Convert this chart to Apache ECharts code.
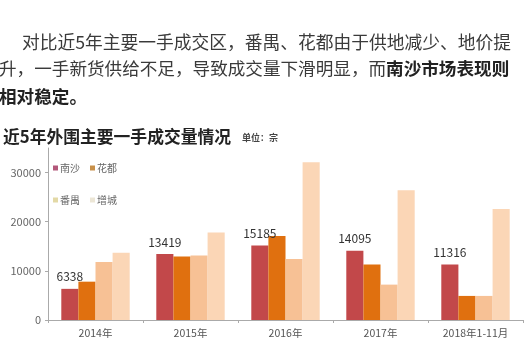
<!DOCTYPE html>
<html><head><meta charset="utf-8">
<script src="https://cdn.jsdelivr.net/npm/echarts@6/dist/echarts.min.js"></script>
<style>html,body{margin:0;padding:0;background:#fff}#c{width:531px;height:364px}</style>
</head><body><div id="c"></div>
<script>
const categories = ['2014年','2015年','2016年','2017年','2018年1-11月'];
const nansha = [6338, 13419, 15185, 14095, 11316];
const huadu = [7800, 12900, 17100, 11300, 4900];
const panyu = [11800, 13100, 12400, 7200, 4900];
const zengcheng = [13700, 17800, 32100, 26400, 22600];
const seriesNames = ['南沙','花都','番禺','增城'];
const yTicks = [0, 10000, 20000, 30000];

const chart = echarts.init(document.getElementById('c'));
const FONT = '"Noto Sans CJK SC", "Noto Sans", sans-serif';
const colors = ['#c2484a','#e0700f','#f7c195','#fbd6b6'];
const legendIcon = ['#b3587a','#c8904a','#e3d9a6','#ece6d6'];

function bar(name, data, i, label) {
  return {
    name, type: 'bar', data, barGap: 0, barCategoryGap: '28%',
    itemStyle: { color: colors[i] },
    label: label ? { show: true, position: 'top', distance: 6, color: '#333', fontSize: 12, fontFamily: FONT } : { show: false }
  };
}

chart.setOption({
  animation: false,
  textStyle: { fontFamily: FONT },
  grid: { left: 48, right: 8, top: 148, bottom: 44 },
  legend: [
    { data: [{name:'南沙', itemStyle:{color:legendIcon[0]}}, {name:'花都', itemStyle:{color:legendIcon[1]}}],
      left: 48, top: 158, icon: 'rect', itemWidth: 5, itemHeight: 5, itemGap: 10,
      textStyle: { fontSize: 10, color: '#666', padding: [0,0,0,-3] } },
    { data: [{name:'番禺', itemStyle:{color:legendIcon[2]}}, {name:'增城', itemStyle:{color:legendIcon[3]}}],
      left: 48, top: 190, icon: 'rect', itemWidth: 5, itemHeight: 5, itemGap: 10,
      textStyle: { fontSize: 10, color: '#666', padding: [0,0,0,-3] } }
  ],
  xAxis: {
    type: 'category', data: categories,
    axisLine: { lineStyle: { color: '#aaa' } },
    axisTick: { show: true, lineStyle: { color: '#aaa' }, length: 3 },
    axisLabel: { color: '#555', fontSize: 10.5, margin: 8 }
  },
  yAxis: {
    type: 'value', min: 0, max: 35000, interval: 10000,
    axisLine: { show: true, lineStyle: { color: '#aaa' } },
    axisTick: { show: true, length: 3, lineStyle: { color: '#aaa' } },
    axisLabel: { color: '#666', fontSize: 11, margin: 7, showMaxLabel: false,
      formatter: v => yTicks.includes(v) ? String(v) : '' },
    splitLine: { show: false }
  },
  series: [
    bar(seriesNames[0], nansha, 0, true),
    bar(seriesNames[1], huadu, 1, false),
    bar(seriesNames[2], panyu, 2, false),
    bar(seriesNames[3], zengcheng, 3, false)
  ],
  graphic: [
    { type: 'text', left: 22, top: 33, style: { text: '对比近5年主要一手成交区，番禺、花都由于供地减少、地价提', font: '17.75px ' + FONT, fill: '#3a3a3a' } },
    { type: 'text', left: -1, top: 60, style: {
        text: '{n|升，一手新货供给不足，导致成交量下滑明显，而}{b|南沙市场表现则}',
        rich: { n: { font: '17.6px ' + FONT, fill: '#3a3a3a' }, b: { font: 'bold 17.6px ' + FONT, fill: '#222' } } } },
    { type: 'text', left: -1, top: 88, style: { text: '相对稳定。', font: 'bold 17.6px ' + FONT, fill: '#222' } },
    { type: 'text', left: 3, top: 128, style: { text: '近5年外围主要一手成交量情况', font: 'bold 16.8px ' + FONT, fill: '#222' } },
    { type: 'text', left: 242, top: 133, style: { text: '单位：宗', font: 'bold 9px ' + FONT, fill: '#444' } }
  ]
});
</script></body></html>
